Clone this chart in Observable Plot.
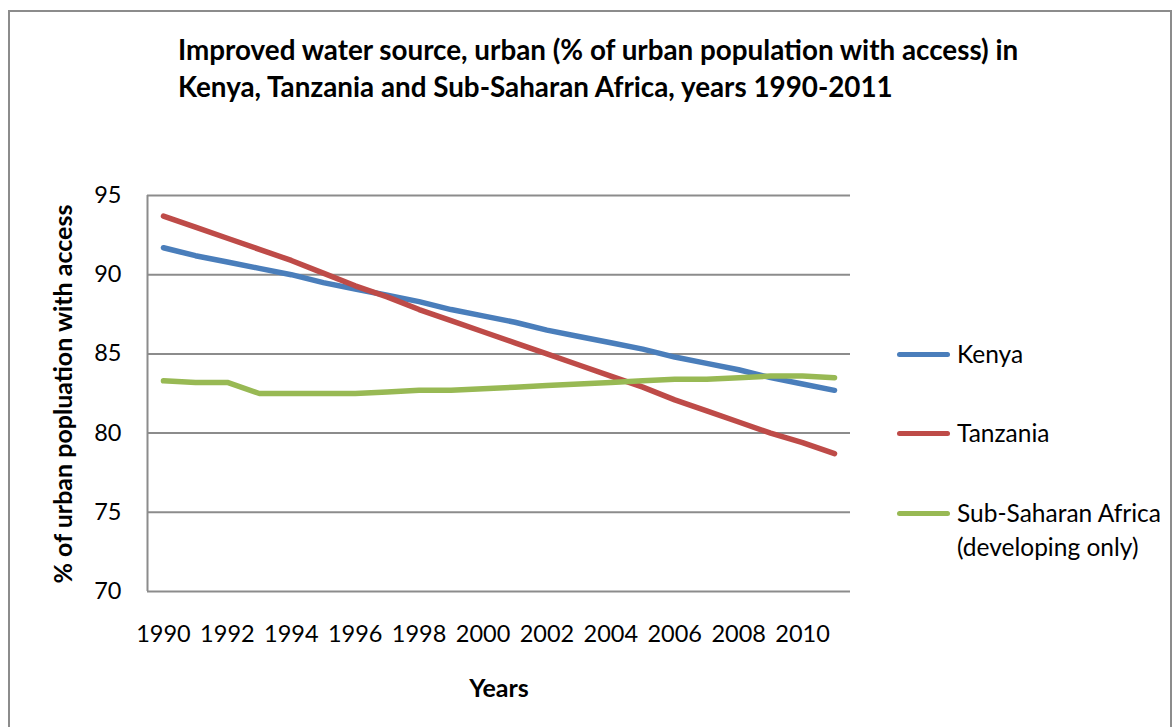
<!DOCTYPE html>
<html>
<head>
<meta charset="utf-8">
<script src="https://cdn.jsdelivr.net/npm/d3@7"></script>
<script src="https://cdn.jsdelivr.net/npm/@observablehq/plot@0.6"></script>
<style>
  html, body { margin: 0; padding: 0; background: #fff; }
  #wrap { position: relative; width: 1175px; height: 727px; overflow: hidden; font-family: Lato, "Open Sans", sans-serif; color: #000; }
  #frame { position: absolute; left: 8px; top: 10px; width: 1164px; height: 800px; border: 2px solid #8c8c8c; box-sizing: border-box; }
  #title { position: absolute; left: 178px; top: 31px; font-weight: bold; font-size: 27.8px; line-height: 37px; white-space: nowrap; }
  #ylab { position: absolute; left: 62px; top: 394px; transform: translate(-50%, -50%) rotate(-90deg); font-weight: bold; font-size: 25px; white-space: nowrap; }
  #xlab { position: absolute; left: 499px; top: 687px; transform: translate(-50%, -50%); font-weight: bold; font-size: 25px; white-space: nowrap; }
  #chart { position: absolute; left: 0; top: 0; }
  .leg { position: absolute; left: 897px; display: flex; align-items: flex-start; font-size: 24.5px; line-height: 34px; }
  .leg .sw { width: 53px; height: 5px; border-radius: 3px; margin-top: 15px; margin-right: 7px; flex: none; }
</style>
</head>
<body>
<div id="wrap">
  <div id="frame"></div>
  <div id="chart"></div>
  <div id="title"></div>
  <div id="ylab"></div>
  <div id="xlab"></div>
  <div id="legend"></div>
</div>
<script>
const titleLines = ["Improved water source, urban (% of urban population with access) in", "Kenya, Tanzania and Sub-Saharan Africa, years 1990-2011"];
const yAxisLabel = "% of urban popluation with access";
const xAxisLabel = "Years";

const years = [1990,1991,1992,1993,1994,1995,1996,1997,1998,1999,2000,2001,2002,2003,2004,2005,2006,2007,2008,2009,2010,2011];
const kenya = [91.7,91.2,90.8,90.4,90.0,89.5,89.1,88.7,88.3,87.8,87.4,87.0,86.5,86.1,85.7,85.3,84.8,84.4,84.0,83.5,83.1,82.7];
const tanzania = [93.7,93.0,92.3,91.6,90.9,90.1,89.3,88.6,87.8,87.1,86.4,85.7,85.0,84.3,83.6,82.9,82.1,81.4,80.7,80.0,79.4,78.7];
const ssa = [83.3,83.2,83.2,82.5,82.5,82.5,82.5,82.6,82.7,82.7,82.8,82.9,83.0,83.1,83.2,83.3,83.4,83.4,83.5,83.6,83.6,83.5];

const seriesNames = ["Kenya", "Tanzania", "Sub-Saharan Africa (developing only)"];
const legendLabels = [["Kenya"], ["Tanzania"], ["Sub-Saharan Africa", "(developing only)"]];
const seriesColors = ["#4A7EBB", "#BE4B48", "#98B954"];
const yTicks = [70, 75, 80, 85, 90, 95];
const xTicks = [1990,1992,1994,1996,1998,2000,2002,2004,2006,2008,2010];

const rows = [];
[kenya, tanzania, ssa].forEach((vals, s) => {
  vals.forEach((v, i) => rows.push({series: seriesNames[s], year: years[i], value: v}));
});

const xMin = years[0] - 0.5, xMax = years[years.length - 1] + 0.5;

const chart = Plot.plot({
  width: 1175,
  height: 727,
  marginLeft: 147,
  marginRight: 325,
  marginTop: 195,
  marginBottom: 136,
  style: {fontFamily: "Lato, 'Open Sans', sans-serif", fontSize: "23.5px", color: "#000", background: "transparent"},
  x: {domain: [xMin, xMax], ticks: xTicks, tickFormat: d => String(d), tickSize: 0, tickPadding: 34, label: null},
  y: {domain: [70, 95], ticks: yTicks, tickSize: 0, tickPadding: 26, label: null},
  color: {domain: seriesNames, range: seriesColors},
  marks: [
    Plot.ruleY(yTicks, {x1: xMin, x2: xMax, stroke: "#8c8c8c", strokeWidth: 2}),
    Plot.ruleX([xMin], {y1: 70, y2: 95, stroke: "#8c8c8c", strokeWidth: 2}),
    Plot.line(rows, {x: "year", y: "value", z: "series", stroke: "series", strokeWidth: 5.5, strokeLinecap: "round", strokeLinejoin: "round"})
  ]
});
document.getElementById("chart").appendChild(chart);

document.getElementById("title").innerHTML = titleLines.join("<br>");
document.getElementById("ylab").textContent = yAxisLabel;
document.getElementById("xlab").textContent = xAxisLabel;

const legendTops = [337, 416, 496];
const legend = document.getElementById("legend");
legendLabels.forEach((lines, i) => {
  const d = document.createElement("div");
  d.className = "leg";
  d.style.top = legendTops[i] + "px";
  const sw = document.createElement("div");
  sw.className = "sw";
  sw.style.background = seriesColors[i];
  const t = document.createElement("div");
  t.innerHTML = lines.join("<br>");
  d.appendChild(sw);
  d.appendChild(t);
  legend.appendChild(d);
});
</script>
</body>
</html>
